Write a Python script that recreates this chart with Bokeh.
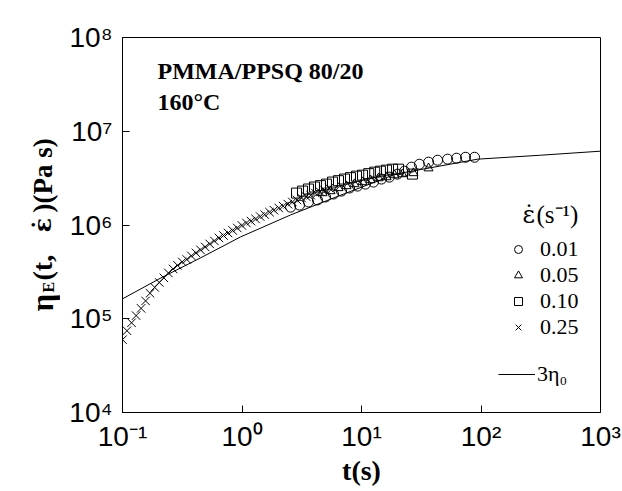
import math
from bokeh.plotting import figure
from bokeh.layouts import row
from bokeh.models import FixedTicker, Label, Legend, LegendItem, Range1d
from bokeh.embed import file_html
from bokeh.resources import INLINE

# ---- data ----
t_001 = [2.55, 3.03, 3.60, 4.28, 5.00, 5.83, 6.80, 7.94, 9.26, 10.8, 12.6, 14.7,
         17.1, 20.0, 22.9, 26.2, 30.5, 36.4, 43.3, 52.5, 62.4, 74.2, 88.3]
eta_001 = [1.55e6, 1.63e6, 1.76e6, 1.85e6, 1.99e6, 2.14e6, 2.30e6, 2.48e6, 2.60e6,
           2.73e6, 2.87e6, 3.09e6, 3.24e6, 3.49e6, 3.75e6, 4.14e6, 4.45e6, 4.68e6,
           4.91e6, 5.04e6, 5.16e6, 5.28e6, 5.28e6]

t_005 = [4.72, 5.51, 6.42, 7.49, 8.73, 10.2, 11.9, 13.9, 16.2, 18.9, 22.0, 27.2, 36.4]
eta_005 = [2.19e6, 2.30e6, 2.48e6, 2.60e6, 2.73e6, 2.87e6, 3.01e6, 3.16e6, 3.24e6,
           3.40e6, 3.49e6, 3.58e6, 4.03e6]

t_010 = [2.86, 3.21, 3.60, 4.04, 4.54, 5.09, 5.72, 6.42, 7.21, 8.09, 9.08, 10.2,
         11.5, 12.9, 14.4, 16.2, 18.2, 20.4, 26.7]
eta_010 = [2.19e6, 2.30e6, 2.42e6, 2.54e6, 2.63e6, 2.73e6, 2.87e6, 2.97e6, 3.09e6,
           3.20e6, 3.32e6, 3.40e6, 3.53e6, 3.66e6, 3.75e6, 3.85e6, 3.94e6, 3.94e6, 3.49e6]

t_025 = [0.100, 0.109, 0.119, 0.130, 0.143, 0.156, 0.170, 0.186, 0.203, 0.222,
         0.242, 0.265, 0.289, 0.316, 0.345, 0.377, 0.412, 0.450, 0.492, 0.537,
         0.587, 0.641, 0.700, 0.765, 0.836, 0.913, 0.998, 1.09, 1.19, 1.30,
         1.42, 1.55, 1.70, 1.85, 2.03, 2.21, 2.42, 2.64, 2.88, 3.15,
         3.44, 3.76, 4.11, 4.49, 4.90, 5.36]
eta_025 = [5.98e4, 7.45e4, 9.06e4, 1.08e5, 1.29e5, 1.55e5, 1.87e5, 2.16e5, 2.44e5, 2.73e5,
           3.08e5, 3.40e5, 3.71e5, 4.04e5, 4.29e5, 4.68e5, 5.04e5, 5.42e5, 5.83e5, 6.28e5,
           6.76e5, 7.28e5, 7.73e5, 8.22e5, 8.74e5, 9.29e5, 9.88e5, 1.05e6, 1.10e6, 1.16e6,
           1.23e6, 1.29e6, 1.37e6, 1.44e6, 1.52e6, 1.59e6, 1.67e6, 1.76e6, 1.85e6, 1.94e6,
           2.01e6, 2.08e6, 2.19e6, 2.27e6, 2.36e6, 2.48e6]

t_line = [0.1, 0.21, 0.45, 0.97, 2.55, 6.7, 19.3, 94, 315, 1000]
eta_line = [1.63e5, 2.73e5, 4.46e5, 7.45e5, 1.28e6, 2.08e6, 3.49e6, 5.04e6, 5.55e6, 6.13e6]

legend_labels = ["0.01", "0.05", "0.10", "0.25"]
line_label = "3η₀"
legend_title_sym = "ε̇"
legend_title_unit = "(s⁻¹)"

x_ticks = [0.1, 1, 10, 100, 1000]
x_tick_labels = ["10⁻¹", "10⁰", "10¹", "10²", "10³"]
y_ticks = [1e4, 1e5, 1e6, 1e7, 1e8]
y_tick_labels = ["10⁴", "10⁵", "10⁶", "10⁷", "10⁸"]

SERIF = "Liberation Serif"
SANS = "Liberation Sans"
DOTFONT = "DejaVu Serif"
LABEL_W = 60

p = figure(width=622 - LABEL_W, height=491, x_axis_type="log", y_axis_type="log",
           x_range=Range1d(0.1, 1000), y_range=Range1d(1e4, 1e8),
           output_backend="svg", toolbar_location=None,
           min_border_left=122 - LABEL_W, min_border_right=22,
           min_border_top=37, min_border_bottom=79)
p.grid.visible = False
p.outline_line_color = "black"
p.outline_line_width = 1
p.background_fill_color = "white"
p.border_fill_color = "white"

for ax in (p.xaxis[0], p.yaxis[0]):
    ax.major_tick_in = 7
    ax.major_tick_out = 0
    ax.minor_tick_in = 0
    ax.minor_tick_out = 0
    ax.axis_line_color = "black"
    ax.major_tick_line_color = "black"
    ax.major_label_text_font = SANS
    ax.major_label_text_font_size = "28px"
    ax.major_label_text_color = "black"

p.xaxis.ticker = FixedTicker(ticks=x_ticks)
p.yaxis.ticker = FixedTicker(ticks=y_ticks)
p.xaxis.major_label_overrides = dict(zip(x_ticks, x_tick_labels))
p.yaxis.major_label_overrides = dict(zip(y_ticks, y_tick_labels))
p.xaxis.major_label_standoff = 8
p.yaxis.major_label_standoff = 10

p.xaxis.axis_label = "t(s)"
p.xaxis.axis_label_text_font = SERIF
p.xaxis.axis_label_text_font_style = "bold"
p.xaxis.axis_label_text_font_size = "28px"
p.xaxis.axis_label_text_color = "black"
p.xaxis.axis_label_standoff = 0

# ---- data marks ----
r_line = p.line(t_line, eta_line, line_color="black", line_width=1)
r1 = p.scatter(t_001, eta_001, marker="circle", size=10, fill_color=None,
               line_color="black", line_width=1)
r2 = p.scatter(t_005, eta_005, marker="triangle", size=9, fill_color=None,
               line_color="black", line_width=1)
r3 = p.scatter(t_010, eta_010, marker="square", size=10, fill_color=None,
               line_color="black", line_width=1)
r4 = p.scatter(t_025, eta_025, marker="x", size=12, line_color="black", line_width=1)

# ---- legend: one box per row so the row pitch matches ----
def one_legend(label, renderer, loc, gw, standoff):
    return Legend(items=[LegendItem(label=label, renderers=[renderer])],
                  location=loc, padding=0, margin=0,
                  glyph_width=gw, glyph_height=20, label_height=20,
                  label_standoff=standoff,
                  label_text_font=SERIF, label_text_font_size="22px",
                  label_text_color="black",
                  border_line_color=None, background_fill_alpha=0)

row_bottoms = [150, 124, 98, 72]
for lab, r, vy in zip(legend_labels, [r1, r2, r3, r4], row_bottoms):
    p.add_layout(one_legend(lab, r, (386, vy), 20, 12))
p.add_layout(one_legend(line_label, r_line, (376, 25), 37, 2))

p.add_layout(Label(x=400, y=198, x_units="screen", y_units="screen",
                   text=legend_title_sym, text_font=DOTFONT, text_font_size="24px",
                   text_baseline="middle", text_color="black"))
p.add_layout(Label(x=414, y=198, x_units="screen", y_units="screen",
                   text=legend_title_unit, text_font=SERIF, text_font_size="25px",
                   text_baseline="middle", text_color="black"))

# ---- annotation texts ----
for txt, yy in (("PMMA/PPSQ 80/20", 342), ("160°C", 311)):
    p.add_layout(Label(x=35, y=yy, x_units="screen", y_units="screen", text=txt,
                       text_font=SERIF, text_font_style="bold", text_font_size="24px",
                       text_baseline="alphabetic", text_color="black"))

# ---- y axis label (rotated, with subscript) in a narrow side panel ----
# the side panel's frame is aligned with the main frame (bottom edge at y=412)
side = figure(width=LABEL_W, height=491, output_backend="svg", toolbar_location=None,
              x_range=Range1d(0, LABEL_W), y_range=Range1d(0, 491),
              x_axis_location=None, y_axis_location=None, min_border=0)
side.grid.visible = False
side.outline_line_color = None
side.background_fill_color = "white"
side.border_fill_color = "white"

# (text, baseline x, start y above the frame bottom, size, font)
ylabel_parts = [("η", 42, 101, "31px", SERIF), ("E", 48, 120, "16px", SERIF),
                ("(t,", 42, 132, "28px", SERIF), ("ε̇", 42, 180, "24px", DOTFONT),
                (")(Pa s)", 42, 200, "27px", SERIF)]
for txt, sx, sy, fs, fnt in ylabel_parts:
    side.add_layout(Label(x=sx, y=sy, x_units="screen", y_units="screen", text=txt,
                          angle=math.pi / 2, text_align="left", text_baseline="alphabetic",
                          text_font=fnt, text_font_style="bold", text_font_size=fs,
                          text_color="black"))

layout = row(side, p, spacing=0)
open("out.html", "w").write(file_html(layout, INLINE))
